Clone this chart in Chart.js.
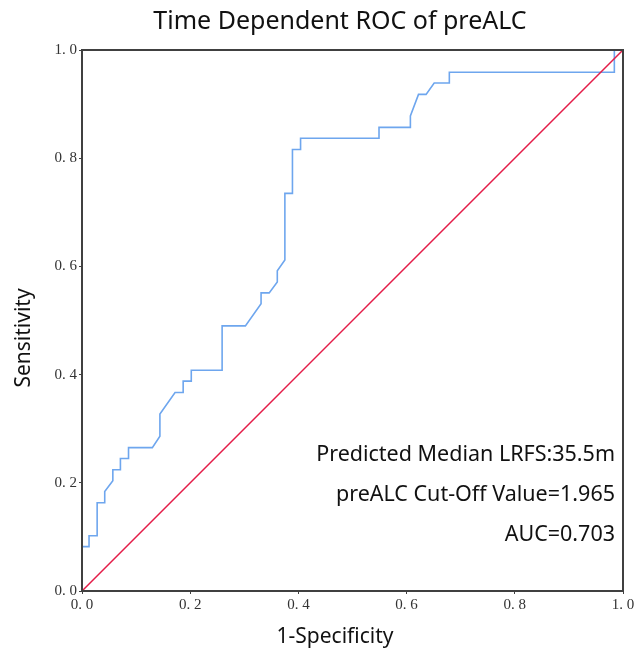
<!DOCTYPE html>
<html lang="en">
<head>
  <meta charset="UTF-8">
  <title>Time Dependent ROC of preALC</title>
  <script src="https://cdn.jsdelivr.net/npm/chart.js"></script>
  <style>
    body {
      margin: 0;
      background: #fff;
    }

    canvas {
      display: block;
    }
  </style>
</head>
<body>
  <canvas id="rocChart" width="637" height="656"></canvas>

  <script>
    // ROC curve (1-specificity, sensitivity)
    const fpr = [0, 0.013, 0.013, 0.028, 0.028, 0.042, 0.042, 0.057, 0.057, 0.071, 0.071, 0.086, 0.086, 0.130, 0.144, 0.144,
      0.172, 0.187, 0.187, 0.202, 0.202, 0.259, 0.259, 0.302, 0.331, 0.331, 0.346, 0.361, 0.361, 0.375, 0.375, 0.389,
      0.389, 0.404, 0.404, 0.549, 0.549, 0.607, 0.607, 0.622, 0.636, 0.651, 0.679, 0.679, 0.984, 0.984, 1.0];
    const tpr = [0.082, 0.082, 0.102, 0.102, 0.163, 0.163, 0.184, 0.204, 0.224, 0.224, 0.245, 0.245, 0.265, 0.265, 0.286, 0.327,
      0.367, 0.367, 0.388, 0.388, 0.408, 0.408, 0.490, 0.490, 0.531, 0.551, 0.551, 0.571, 0.592, 0.612, 0.735, 0.735,
      0.816, 0.816, 0.837, 0.837, 0.857, 0.857, 0.878, 0.918, 0.918, 0.939, 0.939, 0.959, 0.959, 1.0, 1.0];

    // reference diagonal
    const refX = [0, 1];
    const refY = [0, 1];

    const tickValues = [0, 0.2, 0.4, 0.6, 0.8, 1.0];

    const chartTitle = 'Time Dependent ROC of preALC';
    const xTitle = '1-Specificity';
    const yTitle = 'Sensitivity';
    const notes = ['Predicted Median LRFS:35.5m', 'preALC Cut-Off Value=1.965', 'AUC=0.703'];

    const sansFont = '"Noto Sans", "Open Sans", sans-serif';

    // frame around the plot plus the titles and notes
    const textPlugin = {
      id: 'texts',
      afterDraw(chart) {
        const ctx = chart.ctx;
        const area = chart.chartArea;
        ctx.save();
        ctx.strokeStyle = '#404040';
        ctx.lineWidth = 2;
        ctx.strokeRect(area.left, area.top, area.right - area.left, area.bottom - area.top);

        ctx.fillStyle = '#111';
        ctx.textBaseline = 'middle';
        ctx.textAlign = 'center';
        ctx.font = '25px ' + sansFont;
        ctx.fillText(chartTitle, 340, 22);

        ctx.font = '21px ' + sansFont;
        ctx.fillText(xTitle, 335, 637);

        ctx.save();
        ctx.translate(24, 338);
        ctx.rotate(-Math.PI / 2);
        ctx.fillText(yTitle, 0, 0);
        ctx.restore();

        ctx.textAlign = 'right';
        ctx.textBaseline = 'alphabetic';
        ctx.font = '21.5px ' + sansFont;
        notes.forEach((t, i) => {
          ctx.fillText(t, 615, 461 + i * 40);
        });
        ctx.restore();
      }
    };

    const axisTicks = {
      font: { family: '"Liberation Serif", "DejaVu Serif", serif', size: 15 },
      color: '#333',
      padding: 2,
      callback: (v) => v.toFixed(1).replace('.', '. ')
    };

    new Chart(document.getElementById('rocChart'), {
      type: 'scatter',
      data: {
        datasets: [{
          label: 'ROC',
          data: fpr.map((x, i) => ({ x: x, y: tpr[i] })),
          showLine: true,
          borderColor: 'rgb(110, 166, 238)',
          borderWidth: 1.6,
          pointRadius: 0,
          tension: 0,
          order: 2
        }, {
          label: 'Reference',
          data: refX.map((x, i) => ({ x: x, y: refY[i] })),
          showLine: true,
          borderColor: 'rgb(228, 28, 72)',
          borderWidth: 1.5,
          pointRadius: 0,
          order: 1
        }]
      },
      options: {
        responsive: false,
        animation: false,
        layout: { padding: { top: 50, right: 14, left: 0, bottom: 0 } },
        plugins: {
          legend: { display: false },
          tooltip: { enabled: false }
        },
        scales: {
          x: {
            type: 'linear',
            min: 0,
            max: 1,
            afterBuildTicks: (s) => { s.ticks = tickValues.map(v => ({ value: v })); },
            afterFit: (s) => { s.height = 65; },
            ticks: axisTicks,
            border: { display: false },
            grid: { drawOnChartArea: false, tickLength: 3, color: '#404040' }
          },
          y: {
            type: 'linear',
            min: 0,
            max: 1,
            afterBuildTicks: (s) => { s.ticks = tickValues.map(v => ({ value: v })); },
            afterFit: (s) => { s.width = 82; },
            ticks: axisTicks,
            border: { display: false },
            grid: { drawOnChartArea: false, tickLength: 3, color: '#404040' }
          }
        }
      },
      plugins: [textPlugin]
    });
  </script>
</body>
</html>
